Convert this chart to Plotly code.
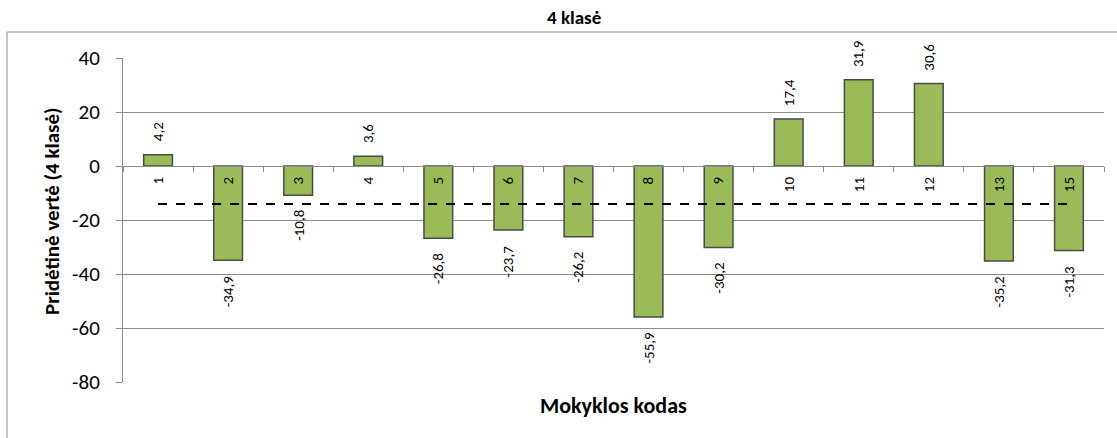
import plotly.graph_objects as go

# School codes and their value-added scores (4th grade)
schools = ["1", "2", "3", "4", "5", "6", "7", "8", "9", "10", "11", "12", "13", "15"]
values = [4.2, -34.9, -10.8, 3.6, -26.8, -23.7, -26.2, -55.9, -30.2, 17.4, 31.9, 30.6, -35.2, -31.3]
# Reference (average) level drawn as a dashed line
average = [-14.1] * len(schools)

y_ticks = [40, 20, 0, -20, -40, -60, -80]
y_tick_text = ["40", "20", "0", "-20", "-40", "-60", "-80"]

FONT = "Carlito, Calibri, Lato, sans-serif"
GRID = "#8c8c8c"


def fmt(v):
    return f"{v:.1f}".replace(".", ",")


fig = go.Figure()

fig.add_trace(go.Bar(
    x=schools,
    y=values,
    width=0.41,
    marker=dict(color="#9bbb59", line=dict(color="#4a4a4a", width=1.5)),
    hoverinfo="x+y",
    showlegend=False,
))

fig.add_trace(go.Scatter(
    x=schools,
    y=average,
    mode="lines",
    line=dict(color="black", width=2, dash="dash"),
    hoverinfo="skip",
    showlegend=False,
))

# Rotated value labels above positive bars and below negative ones
annotations = []
for i, v in enumerate(values):
    annotations.append(dict(
        x=i, y=v, xref="x", yref="y",
        text=fmt(v),
        textangle=-90,
        showarrow=False,
        yanchor="bottom" if v >= 0 else "top",
        yshift=11 if v >= 0 else -13,
        font=dict(family=FONT, size=15, color="black"),
    ))

annotations.append(dict(
    x=(574 - 123) / 981, y=(382 - 17) / 324, xref="paper", yref="paper",
    text="<b>4 klasė</b>", showarrow=False,
    xanchor="center", yanchor="middle",
    font=dict(family=FONT, size=19, color="black"),
))
annotations.append(dict(
    x=0.5, y=-0.071, xref="paper", yref="paper",
    text="<b>Mokyklos kodas</b>", showarrow=False,
    xanchor="center", yanchor="middle",
    font=dict(family=FONT, size=22, color="black"),
))
annotations.append(dict(
    x=(52 - 123) / 981, y=(382 - 211) / 324, xref="paper", yref="paper",
    text="<b>Pridėtinė vertė (4 klasė)</b>", showarrow=False,
    textangle=-90, xanchor="center", yanchor="middle",
    font=dict(family=FONT, size=21, color="black"),
))

fig.update_layout(
    width=1117,
    height=438,
    margin=dict(l=123, r=13, t=58, b=56),
    paper_bgcolor="white",
    plot_bgcolor="white",
    xaxis=dict(
        type="category",
        range=[-0.5, len(schools) - 0.5],
        anchor="free",
        position=2 / 3,
        showline=True,
        linecolor=GRID,
        linewidth=1,
        ticks="outside",
        ticklen=5,
        tickcolor=GRID,
        tickson="boundaries",
        tickangle=-90,
        ticklabelstandoff=4,
        showgrid=False,
        zeroline=False,
        tickfont=dict(family=FONT, size=15, color="black"),
    ),
    yaxis=dict(
        range=[-80, 40],
        tickvals=y_ticks,
        ticktext=y_tick_text,
        showline=True,
        linecolor=GRID,
        linewidth=1,
        ticks="outside",
        ticklen=6,
        tickcolor=GRID,
        ticklabelstandoff=12,
        showgrid=True,
        gridcolor=GRID,
        gridwidth=1,
        zeroline=False,
        tickfont=dict(family=FONT, size=21, color="black"),
    ),
    annotations=annotations,
    shapes=[dict(
        type="rect", xref="paper", yref="paper",
        x0=(7 - 123) / 981, x1=(1125 - 123) / 981,
        y0=(382 - 450) / 324, y1=(382 - 32) / 324,
        line=dict(color=GRID, width=1),
        fillcolor="rgba(0,0,0,0)",
        layer="below",
    )],
)

fig.write_html("out.html")
